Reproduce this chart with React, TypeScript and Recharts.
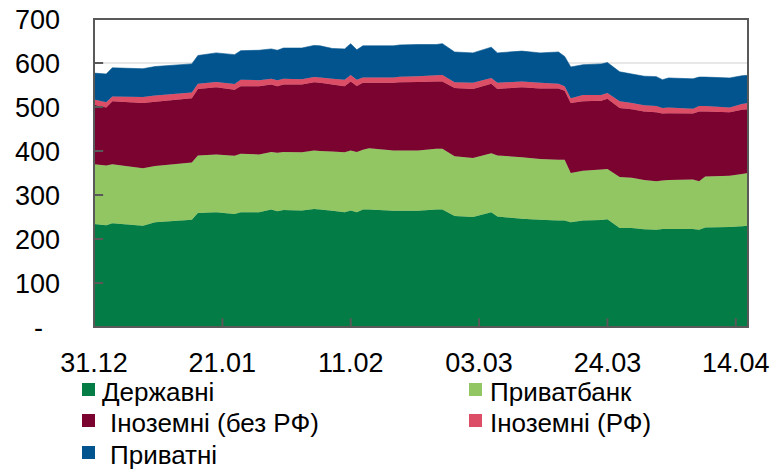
import {
  Area,
  AreaChart,
  CartesianGrid,
  ReferenceArea,
  ReferenceLine,
  XAxis,
  YAxis,
} from "recharts";

// days since 31.12 (date axis, 2024 is a leap year)
const days = [
  0, 2, 3, 8, 10, 16, 17, 20, 23, 24, 27, 29, 30, 31, 34, 36, 37, 39, 41, 42, 43, 44, 45, 49, 50, 53,
  56, 57, 59, 62, 65, 66, 70, 73, 76, 77, 78, 80, 83, 84, 86, 88, 90, 92, 93, 94, 98, 99, 100, 104,
  106, 107,
];

const derzhavni = [
  234, 231, 236, 230, 238, 244, 259, 261, 257, 261, 261, 267, 263, 266, 265, 268, 267, 264, 261, 265,
  261, 267, 267, 264, 264, 264, 267, 267, 252, 250, 261, 251, 246, 244, 242, 242, 238, 242, 243, 245,
  225, 225, 222, 221, 223, 223, 223, 221, 226, 227, 229, 230,
];
const privatbank = [
  136, 136, 134, 131, 128, 130, 131, 131, 132, 133, 131, 131, 133, 132, 132, 133, 133, 135, 136, 136,
  137, 136, 139, 137, 137, 137, 138, 138, 136, 134, 134, 139, 140, 138, 138, 138, 112, 113, 115, 114,
  116, 114, 112, 110, 110, 111, 112, 110, 116, 117, 119, 120,
];
const inozemni = [
  135, 132, 143, 148, 146, 146, 151, 153, 150, 153, 155, 153, 151, 153, 154, 155, 155, 152, 150, 157,
  150, 152, 149, 154, 155, 156, 153, 153, 155, 157, 158, 151, 159, 160, 162, 157, 159, 158, 156, 160,
  157, 156, 156, 157, 152, 152, 150, 159, 148, 144, 146, 145,
];
const inozemniRf = [
  12, 12, 11, 14, 14, 13, 12, 12, 13, 15, 14, 13, 14, 13, 12, 12, 12, 13, 15, 15, 14, 12, 12, 12, 13,
  13, 14, 15, 13, 14, 13, 14, 13, 13, 11, 10, 11, 14, 13, 13, 15, 14, 14, 14, 13, 13, 11, 12, 12, 11,
  13, 14,
];
const pryvatni = [
  60, 64, 65, 64, 66, 65, 64, 66, 67, 66, 68, 68, 68, 70, 71, 72, 72, 69, 70, 71, 68, 72, 72, 72, 72,
  72, 70, 71, 69, 68, 70, 68, 69, 68, 72, 68, 71, 69, 71, 69, 67, 66, 66, 67, 64, 67, 68, 66, 66, 67,
  64, 63,
];

const xTicks = [0, 21, 42, 63, 84, 105];
const xLabels = ["31.12", "21.01", "11.02", "03.03", "24.03", "14.04"];
const yTicks = [0, 100, 200, 300, 400, 500, 600, 700];
const yLabels = ["-", "100", "200", "300", "400", "500", "600", "700"];

const series = [
  { key: "derzhavni", name: "Державні", color: "#047c45" },
  { key: "privatbank", name: "Приватбанк", color: "#92c663" },
  { key: "inozemni", name: "Іноземні (без РФ)", color: "#7a0330" },
  { key: "inozemniRf", name: "Іноземні (РФ)", color: "#dc4e66" },
  { key: "pryvatni", name: "Приватні", color: "#01548e" },
];

const data = days.map((d, i) => ({
  day: d,
  derzhavni: derzhavni[i],
  privatbank: privatbank[i],
  inozemni: inozemni[i],
  inozemniRf: inozemniRf[i],
  pryvatni: pryvatni[i],
}));

const FONT = "'Liberation Sans', Arial, sans-serif";
const AXIS = "#595959";
// inner tick length, in axis units (about 9px on screen)
const X_TICK_LEN = 1.5;
const Y_TICK_LEN = 20;

function XTick({ x, y, payload }: any) {
  const label = xLabels[xTicks.indexOf(payload.value)];
  return (
    <text x={x} y={y + 45} textAnchor="middle" fontSize={27} fontFamily={FONT} fill="#000">
      {label}
    </text>
  );
}

function YTick({ x, y, payload }: any) {
  const label = yLabels[yTicks.indexOf(payload.value)];
  const dash = label === "-";
  return (
    <text
      x={dash ? x - 51 : x - 34}
      y={y + 10}
      textAnchor="end"
      fontSize={27}
      fontFamily={FONT}
      fill="#000"
    >
      {label}
    </text>
  );
}

// legend rows as in the original (two columns)
const legendPos = [
  { x: 82, y: 383, tx: 102 },
  { x: 469, y: 383, tx: 490 },
  { x: 82, y: 414, tx: 110 },
  { x: 469, y: 414, tx: 490 },
  { x: 82, y: 446, tx: 110 },
];

export default function App() {
  return (
    <div style={{ position: "absolute", left: 0, top: 0, width: 776, height: 469, background: "#fff" }}>
      <AreaChart
        width={776}
        height={469}
        data={data}
        margin={{ top: 19, right: 28, bottom: 112, left: 0 }}
      >
        <CartesianGrid horizontal vertical={false} stroke="#d0d0d0" strokeWidth={1} />
        <XAxis
          dataKey="day"
          type="number"
          domain={[0, 107]}
          ticks={xTicks}
          tick={<XTick />}
          tickSize={0}
          tickMargin={0}
          tickLine={false}
          height={30}
          axisLine={false}
          interval={0}
        />
        <YAxis
          type="number"
          domain={[0, 700]}
          ticks={yTicks}
          tick={<YTick />}
          tickSize={0}
          tickMargin={0}
          tickLine={false}
          width={94}
          axisLine={false}
          interval={0}
        />
        {series.map((s) => (
          <Area
            key={s.key}
            type="linear"
            dataKey={s.key}
            name={s.name}
            stackId="1"
            stroke={s.color}
            strokeWidth={0.6}
            fill={s.color}
            fillOpacity={1}
            isAnimationActive={false}
            dot={false}
            activeDot={false}
          />
        ))}
        {yTicks.slice(1, -1).map((v) => (
          <ReferenceLine
            key={"y" + v}
            segment={[
              { x: 0, y: v },
              { x: X_TICK_LEN, y: v },
            ]}
            stroke={AXIS}
            strokeWidth={2}
            ifOverflow="visible"
          />
        ))}
        {xTicks.slice(1).map((t) => (
          <ReferenceLine
            key={"x" + t}
            segment={[
              { x: t, y: 0 },
              { x: t, y: Y_TICK_LEN },
            ]}
            stroke={AXIS}
            strokeWidth={2}
            ifOverflow="visible"
          />
        ))}
        <ReferenceArea
          x1={0}
          x2={107}
          y1={0}
          y2={700}
          fill="none"
          fillOpacity={0}
          stroke={AXIS}
          strokeWidth={2}
          ifOverflow="visible"
        />
      </AreaChart>
      <svg
        width={776}
        height={469}
        style={{ position: "absolute", left: 0, top: 0, pointerEvents: "none" }}
      >
        {series.map((s, i) => (
          <g key={s.key}>
            <rect x={legendPos[i].x} y={legendPos[i].y} width={13} height={13} fill={s.color} />
            <text
              x={legendPos[i].tx}
              y={legendPos[i].y + 18}
              fontSize={26}
              fontFamily={FONT}
              fill="#000"
            >
              {s.name}
            </text>
          </g>
        ))}
      </svg>
    </div>
  );
}
